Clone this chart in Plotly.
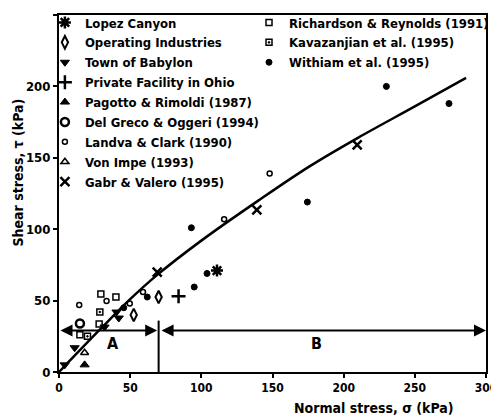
import plotly.graph_objects as go

# ---- data ----
lopez_x = [111]
lopez_y = [71]
operating_x = [52.5, 70]
operating_y = [40, 52.5]
babylon_x = [4, 11, 32, 40.4, 42]
babylon_y = [5, 17, 31.5, 42, 37.8]
ohio_x = [84]
ohio_y = [53]
pagotto_x = [18]
pagotto_y = [5]
delgreco_x = [14.7]
delgreco_y = [34]
landva_x = [14.2, 33.4, 49.7, 59, 116, 148]
landva_y = [47, 49.7, 48, 56, 107, 139]
vonimpe_x = [18]
vonimpe_y = [13.5]
gabr_x = [69, 139, 209.5]
gabr_y = [70, 113.5, 159]
richardson_x = [40, 14.7, 28.2, 29.4]
richardson_y = [52.5, 26, 33.6, 54.6]
kavazanjian_x = [20, 28.7]
kavazanjian_y = [25, 42]
withiam_x = [45.5, 62, 93, 95, 104, 174.5, 230, 274]
withiam_y = [45, 52.5, 101, 59.5, 69, 119, 200, 188]

envelope_x = [0, 30, 50, 69, 100, 140, 176, 210, 250, 286]
envelope_y = [0, 31, 51, 68, 92, 120, 144, 164, 186, 206]

zone_boundary = 70
zone_tau = 29
zone_labels = ["A", "B"]
zone_label_x = [38, 181]
zone_label_y = [20, 20]

x_ticks = [0, 50, 100, 150, 200, 250, 300]
y_ticks = [0, 50, 100, 150, 200, 250]

FONT = "Liberation Sans Narrow, DejaVu Sans Condensed, DejaVu Sans, sans-serif"
BLK = "black"

fig = go.Figure()

fig.add_trace(go.Scatter(x=envelope_x, y=envelope_y, mode="lines",
                         line=dict(color=BLK, width=2.5, shape="spline"),
                         showlegend=False, hoverinfo="skip"))

def add(name, xs, ys, symbol, size, legend, lw=1.5, color=BLK):
    fig.add_trace(go.Scatter(
        x=xs, y=ys, mode="markers", name=name, legend=legend,
        marker=dict(symbol=symbol, size=size, color=color,
                    line=dict(color=BLK, width=lw))))

add("Lopez Canyon", lopez_x, lopez_y, "asterisk-open", 10, "legend", 2.5)
add("Operating Industries", operating_x, operating_y, "diamond-tall-open", 9, "legend", 2)
add("Town of Babylon", babylon_x, babylon_y, "triangle-down", 8, "legend", 1)
add("Private Facility in Ohio", ohio_x, ohio_y, "cross-thin-open", 10, "legend", 2.5)
add("Pagotto & Rimoldi (1987)", pagotto_x, pagotto_y, "triangle-up", 8, "legend", 1)
add("Del Greco & Oggeri (1994)", delgreco_x, delgreco_y, "circle-open", 8, "legend", 2.5)
add("Landva & Clark (1990)", landva_x, landva_y, "circle-open", 5, "legend", 1.5)
add("Von Impe (1993)", vonimpe_x, vonimpe_y, "triangle-up-open", 7, "legend", 1.5)
add("Gabr & Valero (1995)", gabr_x, gabr_y, "x-thin-open", 9, "legend", 2.5)
add("Richardson & Reynolds (1991)", richardson_x, richardson_y, "square-open", 6, "legend2", 1.5)
add("Kavazanjian et al. (1995)", kavazanjian_x, kavazanjian_y, "square-open-dot", 6, "legend2", 1.5)
add("Withiam et al. (1995)", withiam_x, withiam_y, "circle", 6, "legend2", 1)

# zone arrows
fig.add_shape(type="line", x0=zone_boundary, x1=zone_boundary, y0=0, y1=36,
              line=dict(color=BLK, width=2))
fig.add_annotation(x=zone_boundary - 1, y=zone_tau, ax=0, ay=zone_tau,
                   xref="x", yref="y", axref="x", ayref="y", text="",
                   showarrow=True, arrowside="end+start", arrowhead=2,
                   arrowsize=1.2, arrowwidth=2, arrowcolor=BLK)
fig.add_annotation(x=300, y=zone_tau, ax=zone_boundary + 1, ay=zone_tau,
                   xref="x", yref="y", axref="x", ayref="y", text="",
                   showarrow=True, arrowside="end+start", arrowhead=2,
                   arrowsize=1.2, arrowwidth=2, arrowcolor=BLK)
for t, lx, ly in zip(zone_labels, zone_label_x, zone_label_y):
    fig.add_annotation(x=lx, y=ly, xref="x", yref="y", text=t, showarrow=False,
                       font=dict(family=FONT, size=16, color=BLK, weight="bold"))

# axis titles
fig.add_annotation(x=221, y=-0.1, xref="x", yref="paper", text="Normal stress, σ (kPa)",
                   showarrow=False, yanchor="middle",
                   font=dict(family=FONT, size=14, color=BLK, weight="bold"))
fig.add_annotation(x=-0.095, y=0.56, xref="paper", yref="paper", text="Shear stress, τ (kPa)",
                   showarrow=False, textangle=-90, xanchor="center", yanchor="middle",
                   font=dict(family=FONT, size=14, color=BLK, weight="bold"))

axis_common = dict(showgrid=False, zeroline=False, showline=True, linecolor=BLK,
                   linewidth=2, mirror=True, ticks="outside", ticklen=4,
                   tickwidth=2, tickcolor=BLK)

fig.update_xaxes(range=[0, 300], tickvals=x_ticks,
                 tickfont=dict(family=FONT, size=12, color=BLK, weight="bold"),
                 **axis_common)
fig.update_yaxes(range=[0, 250], tickvals=y_ticks,
                 tickfont=dict(family=FONT, size=13, color=BLK, weight="bold"),
                 **axis_common)

legend_font = dict(family=FONT, size=13, color=BLK, weight="bold")
fig.update_layout(
    width=499, height=419,
    margin=dict(l=51, r=21, t=7, b=55, autoexpand=False),
    paper_bgcolor="white", plot_bgcolor="white",
    legend=dict(x=-0.033, y=1.021, xanchor="left", yanchor="top",
                bgcolor="rgba(0,0,0,0)", font=legend_font, itemwidth=30),
    legend2=dict(x=0.445, y=1.021, xanchor="left", yanchor="top",
                 bgcolor="rgba(0,0,0,0)", font=legend_font, itemwidth=30),
)

fig.write_html("out.html",
               post_script="document.body.style.overflow='hidden';"
                           "document.documentElement.style.overflow='hidden';")
